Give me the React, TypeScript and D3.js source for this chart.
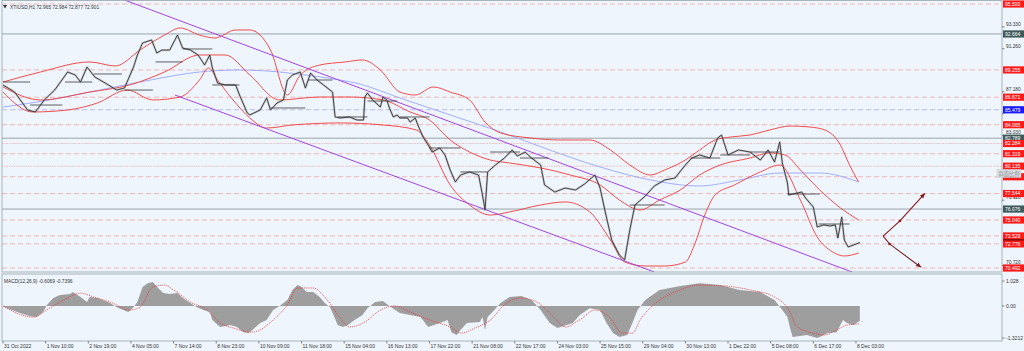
import React from 'react';
import * as d3 from 'd3';

const TITLE = 'XTIUSD,H1  72.965 72.984 72.877 72.901';
const MACD_TITLE = 'MACD(12,26,9) -0.6069 -0.7396';
const SCALE_BUTTON = '斜面比例';

const timeLabels = ['31 Oct 2022', '1 Nov 10:00', '2 Nov 19:00', '4 Nov 05:00', '7 Nov 14:00', '8 Nov 23:00', '10 Nov 09:00', '11 Nov 18:00', '15 Nov 04:00', '16 Nov 13:00', '17 Nov 22:00', '21 Nov 08:00', '22 Nov 17:00', '24 Nov 03:00', '25 Nov 15:00', '29 Nov 04:00', '30 Nov 13:00', '1 Dec 22:00', '5 Dec 08:00', '6 Dec 17:00', '8 Dec 03:00'];
const BARS_PER_LABEL = 33;
const TOTAL_BARS = 773;

// [bar index, close price]
const closeSeries: [number, number][] = [[0,87.83],[9,87.16],[19,85.46],[25,85.27],[32,86.41],[40,87.35],[50,89.06],[56,88.77],[60,88.11],[65,89.53],[71,88.59],[79,88.02],[88,87.35],[94,87.54],[101,89.53],[104,90.67],[108,91.81],[115,92.09],[119,90.86],[123,91.14],[129,91.14],[135,92.56],[139,91.33],[145,91.14],[151,90.67],[156,89.72],[160,90.67],[162,89.44],[166,88.02],[172,87.83],[180,87.83],[183,86.88],[189,85.18],[191,84.99],[199,85.46],[204,86.6],[207,85.46],[212,86.12],[217,86.41],[220,88.3],[224,88.77],[230,89.06],[234,87.54],[238,88.96],[243,88.3],[248,87.83],[255,87.16],[257,84.8],[261,84.7],[268,84.8],[274,84.51],[279,84.51],[280,86.69],[282,87.07],[286,86.41],[292,85.74],[294,86.69],[297,86.41],[299,85.65],[302,84.8],[305,84.99],[307,84.7],[313,84.7],[315,84.32],[319,84.7],[321,84.04],[325,82.9],[329,82.14],[332,81.48],[338,81.86],[342,81.2],[346,79.78],[350,78.64],[354,79.3],[361,79.59],[368,79.3],[371,77.41],[373,75.99],[375,79.59],[381,80.25],[388,80.91],[394,81.67],[398,81.1],[404,81.48],[409,80.91],[416,80.25],[419,78.36],[427,77.69],[435,78.07],[443,77.88],[450,78.45],[458,79.3],[462,78.07],[466,75.8],[471,73.14],[477,71.72],[481,71.25],[485,74.09],[489,76.46],[497,77.31],[504,78.26],[512,78.83],[520,79.02],[528,80.25],[533,80.91],[539,81.2],[547,80.91],[553,82.81],[556,83.09],[561,81.2],[569,81.67],[578,81.48],[586,80.72],[592,81.67],[597,80.53],[601,82.43],[603,80.44],[607,78.54],[608,77.41],[611,77.5],[618,77.69],[621,77.12],[627,76.27],[630,74.38],[635,74.57],[640,74.47],[644,74.57],[646,73.33],[649,75.32],[651,73.14],[654,72.48],[658,72.67],[663,72.9]];

const bandUpper: [number, number][] = [[0,88.11],[29,89.06],[67,90.01],[87,89.63],[106,91.14],[125,92.56],[137,93.23],[152,92.56],[164,92.28],[180,93.04],[191,93.04],[207,91.14],[220,86.88],[230,88.77],[245,89.72],[265,90.01],[278,90.2],[292,89.25],[307,87.16],[319,86.88],[333,87.64],[346,87.16],[361,86.41],[373,84.32],[385,83.28],[408,82.81],[431,82.62],[454,82.62],[470,81.67],[485,80.25],[501,79.3],[512,79.78],[528,80.72],[539,81.67],[551,82.62],[563,82.9],[578,83.09],[593,83.56],[609,83.94],[624,83.85],[636,83.56],[648,82.14],[655,80.25],[662,78.64]];
const bandMiddle: [number, number][] = [[0,87.64],[29,86.41],[67,87.16],[98,87.83],[125,89.06],[152,90.67],[172,90.67],[191,88.77],[214,86.41],[245,86.69],[268,86.69],[294,86.41],[315,85.27],[330,84.51],[346,82.62],[361,81.48],[377,80.72],[392,80.44],[416,79.97],[439,79.3],[462,78.36],[477,76.93],[493,75.99],[508,76.93],[524,77.88],[539,79.3],[555,80.25],[578,80.91],[593,81.39],[605,81.2],[617,79.78],[632,77.88],[648,76.18],[662,75.04]];
const bandLower: [number, number][] = [[0,87.16],[23,85.27],[50,85.46],[73,86.12],[96,87.35],[116,86.41],[137,86.69],[152,88.3],[159,89.44],[166,88.3],[178,86.41],[191,84.7],[204,83.75],[224,84.04],[261,84.23],[294,84.04],[320,83.56],[330,82.14],[346,78.36],[361,76.46],[377,75.51],[392,75.8],[416,76.46],[435,76.75],[454,75.8],[470,73.14],[481,71.06],[497,70.68],[512,70.68],[528,71.06],[535,72.67],[543,75.51],[551,77.41],[566,78.36],[586,79.59],[601,80.25],[617,76.93],[630,73.43],[642,72.01],[651,71.63],[662,71.91]];
const slowMA: [number, number][] = [[0,85.74],[36,86.41],[75,87.35],[114,88.3],[152,89.06],[183,89.25],[214,89.06],[245,88.59],[276,87.92],[307,86.6],[346,84.99],[385,83.38],[423,81.67],[462,80.06],[501,78.83],[539,78.26],[570,78.83],[601,79.49],[632,79.49],[662,78.64]];

const channelUpper: [number, number][] = [[94, 95.88], [657, 70.11]];
const channelLower: [number, number][] = [[133, 86.88], [504, 70.11]];

// [start bar, end bar, price]
const dailyLevels: [number, number, number][] = [[0,21,88.11],[21,46,85.93],[48,69,88.11],[70,92,88.87],[94,116,87.35],[118,139,90.01],[139,162,91.24],[162,183,87.83],[207,234,85.65],[236,255,88.3],[259,282,84.8],[282,305,86.31],[307,330,84.8],[330,354,81.86],[354,375,79.59],[377,400,81.48],[400,422,80.91],[485,512,76.46],[532,555,80.91],[555,578,81.2],[578,601,81.48],[607,632,77.5],[631,655,74.66]];

const forecastUp: [number, number][] = [[681,73.52],[694,74.95],[713,77.52]];
const forecastDown: [number, number][] = [[681,73.52],[686,72.77],[710,70.59]];

const redDashedLevels = [95.5, 89.255, 86.671, 84.065, 81.319, 79.135, 77.544, 75.04, 73.529, 72.776, 70.492];
const redDottedLevels = [82.284, 80.135];
const blueDashedLevels = [85.479];
const greyLevels = [92.664, 82.789, 76.076];
const hiddenLabelLevels = [79.135];
const currentPrice = 72.901;
const priceTicks = [93.33, 91.26, 87.18, 85.11, 83.03, 76.92, 70.72];

const macdHist: [number, number][] = [[0,-0.02],[13,-0.29],[21,-0.42],[26,-0.46],[31,-0.25],[34,0.04],[39,0.33],[44,0.45],[52,0.49],[54,0.57],[60,0.37],[65,0.16],[67,0.37],[73,0.33],[77,0.24],[83,0.12],[88,-0.05],[93,-0.17],[97,-0.25],[101,-0.05],[104,0.16],[108,0.78],[112,0.94],[116,0.99],[120,0.74],[124,0.53],[129,0.49],[135,0.53],[139,0.33],[145,0.12],[150,-0.05],[155,-0.17],[160,-0.25],[162,-0.58],[168,-0.87],[176,-0.79],[181,-0.87],[186,-1.08],[190,-1.12],[193,-0.99],[199,-0.7],[204,-0.58],[209,-0.17],[214,0],[220,0.24],[224,0.66],[228,0.86],[231,0.78],[235,0.57],[240,0.57],[245,0.37],[249,0.12],[253,-0.05],[255,-0.29],[259,-0.79],[263,-0.87],[267,-0.79],[272,-0.58],[278,-0.38],[282,-0.09],[288,0.16],[294,0.2],[299,0],[307,-0.29],[323,-0.46],[329,-0.87],[338,-0.7],[344,-0.58],[347,-1.08],[351,-1.2],[354,-0.99],[359,-0.7],[369,-0.66],[371,-0.46],[373,-0.99],[375,-0.46],[378,-0.29],[385,0.12],[392,0.37],[401,0.41],[409,0.24],[416,-0.17],[423,-0.7],[429,-0.91],[441,-0.7],[446,-0.38],[454,-0.09],[462,-0.17],[467,-0.7],[472,-1.12],[477,-1.28],[483,-1.2],[487,-0.7],[491,-0.17],[497,0.24],[508,0.66],[524,0.82],[539,0.94],[555,0.86],[570,0.66],[586,0.57],[597,0.24],[603,-0.17],[607,-0.46],[609,-0.91],[611,-1.28],[622,-1.2],[630,-1.32],[632,-1.28],[638,-1.12],[645,-1.08],[650,-0.58],[653,-0.7],[658,-0.79],[663,-0.61]];
const macdSignal: [number, number][] = [[0,0],[23,-0.46],[36,-0.09],[50,0.33],[60,0.53],[70,0.37],[83,0.16],[98,-0.17],[106,-0.05],[116,0.78],[125,0.86],[132,0.66],[145,0.16],[158,-0.17],[168,-0.7],[178,-0.91],[193,-1.08],[209,-0.58],[220,0.04],[228,0.74],[240,0.74],[251,0.24],[261,-0.5],[268,-0.87],[280,-0.66],[292,-0.17],[303,0],[315,-0.25],[330,-0.58],[346,-0.87],[355,-1.12],[365,-0.91],[377,-0.58],[388,0.04],[400,0.33],[413,0.16],[427,-0.5],[435,-0.87],[446,-0.58],[458,-0.17],[470,-0.5],[479,-1.12],[487,-1.12],[493,-0.58],[505,0.12],[520,0.57],[539,0.86],[559,0.82],[578,0.66],[597,0.37],[609,-0.25],[614,-0.83],[627,-1.12],[635,-1.2],[645,-0.99],[653,-0.79],[663,-0.74]];
const macdTicks = [{ v: 1.028, t: '1.028' }, { v: 0, t: '0.00' }, { v: -1.3212, t: '-1.3212' }];

const FONT = "'Liberation Sans', Arial, sans-serif";

export default function App() {
  const W = 1024, H = 351;
  const left = 2, right = 1002;
  const paneBottom = 272, macdTop = 274, macdBottom = 341;

  const x = d3.scaleLinear().domain([0, TOTAL_BARS]).range([3, right]);
  const y = d3.scaleLinear().domain([70.492, 95.5]).range([268, 4]);
  const ym = d3.scaleLinear().domain([-1.3212, 1.028]).range([338, 281]);

  const priceLine = d3.line<[number, number]>().x(d => x(d[0])).y(d => y(d[1]));
  const smoothLine = d3.line<[number, number]>().x(d => x(d[0])).y(d => y(d[1])).curve(d3.curveMonotoneX);
  const macdLine = d3.line<[number, number]>().x(d => x(d[0])).y(d => ym(d[1])).curve(d3.curveMonotoneX);
  const histArea = d3.area<[number, number]>().x(d => x(d[0])).y0(ym(0)).y1(d => ym(d[1]));

  const levelLine = (p: number, key: string, stroke: string, dash?: string, sw = 0.8) => (
    <line key={key} x1={left} x2={right} y1={y(p)} y2={y(p)} stroke={stroke} strokeWidth={sw} strokeDasharray={dash} />
  );
  const priceLabel = (p: number, key: string, fill: string, showText = true) => (
    <g key={key}>
      <rect x={right + 1} y={y(p) - 3.6} width={22} height={7.2} fill={fill} />
      {showText && <text x={right + 3} y={y(p) + 1.8} fontSize={5} fill="#fff" fontFamily={FONT}>{p.toFixed(3)}</text>}
    </g>
  );

  return (
    <svg width={W} height={H} style={{ position: 'absolute', left: 0, top: 0, background: '#eef5fc' }}>
      <defs>
        <clipPath id="mainClip"><rect x={left} y={0} width={right - left} height={paneBottom} /></clipPath>
        <clipPath id="macdClip"><rect x={left} y={macdTop} width={right - left} height={macdBottom - macdTop} /></clipPath>
        <marker id="arrowUp" viewBox="0 0 10 10" refX="8" refY="5" markerWidth="5" markerHeight="5" orient="auto">
          <path d="M0,1 L10,5 L0,9 z" fill="#8b1a1a" />
        </marker>
        <marker id="arrowDown" viewBox="0 0 10 10" refX="8" refY="5" markerWidth="5" markerHeight="5" orient="auto">
          <path d="M0,1 L10,5 L0,9 z" fill="#7a1f1f" />
        </marker>
      </defs>
      <rect x={0} y={0} width={W} height={H} fill="#eef5fc" />

      {/* main pane */}
      <g clipPath="url(#mainClip)">
        {greyLevels.map((p, i) => levelLine(p, 'g' + i, '#9aa3ab', undefined, 1))}
        {redDashedLevels.map((p, i) => levelLine(p, 'rd' + i, '#f3a3a3', '5,3'))}
        {redDottedLevels.map((p, i) => levelLine(p, 'rt' + i, '#f3a3a3', '1.2,1.2'))}
        {blueDashedLevels.map((p, i) => levelLine(p, 'bd' + i, '#a8a8f0', '5,3'))}

        <path d={smoothLine(slowMA) || ''} fill="none" stroke="#98a6ff" strokeWidth={0.9} />
        <path d={smoothLine(bandUpper) || ''} fill="none" stroke="#f23a3a" strokeWidth={0.9} />
        <path d={smoothLine(bandMiddle) || ''} fill="none" stroke="#f23a3a" strokeWidth={0.9} />
        <path d={smoothLine(bandLower) || ''} fill="none" stroke="#f23a3a" strokeWidth={0.9} />

        <path d={priceLine(channelUpper) || ''} fill="none" stroke="#a345e6" strokeWidth={1} />
        <path d={priceLine(channelLower) || ''} fill="none" stroke="#a345e6" strokeWidth={1} />

        <path d={priceLine(closeSeries) || ''} fill="none" stroke="#9a9a9a" strokeWidth={2.2} strokeOpacity={0.45} strokeLinejoin="round" />
        <path d={priceLine(closeSeries) || ''} fill="none" stroke="#333" strokeWidth={0.9} strokeLinejoin="round" />

        {dailyLevels.map((d, i) => (
          <line key={'dl' + i} x1={x(d[0])} x2={x(d[1])} y1={y(d[2])} y2={y(d[2])} stroke="#3a3a3a" strokeWidth={0.8} />
        ))}

        <path d={priceLine(forecastUp) || ''} fill="none" stroke="#8b1a1a" strokeWidth={1.1} markerEnd="url(#arrowUp)" />
        <path d={priceLine(forecastDown) || ''} fill="none" stroke="#7a2a2a" strokeWidth={1.1} markerEnd="url(#arrowDown)" />
        {[forecastUp[1], forecastDown[1]].map((d, i) => (
          <circle key={'fm' + i} cx={x(d[0])} cy={y(d[1])} r={1.3} fill="#8b1a1a" />
        ))}
      </g>

      {/* MACD pane */}
      <g clipPath="url(#macdClip)">
        <path d={histArea(macdHist) || ''} fill="#9e9e9e" />
        <path d={macdLine(macdSignal) || ''} fill="none" stroke="#e83a3a" strokeWidth={0.8} strokeDasharray="1.2,1" />
      </g>

      {/* pane frames */}
      <rect x={left} y={0.5} width={right - left} height={paneBottom - 0.5} fill="none" stroke="#9aa3ab" strokeWidth={0.8} />
      <rect x={left} y={macdTop} width={right - left} height={macdBottom - macdTop} fill="none" stroke="#9aa3ab" strokeWidth={0.8} />

      {/* titles */}
      <path d="M3,5 L7,5 L5,8.5 z" fill="#333" />
      <text x={10} y={8.5} fontSize={4.8} fill="#333" fontFamily={FONT}>{TITLE}</text>
      <text x={4} y={283} fontSize={4.8} fill="#333" fontFamily={FONT}>{MACD_TITLE}</text>

      {/* price axis */}
      {priceTicks.map((p, i) => (
        <g key={'pt' + i}>
          <line x1={right} x2={right + 2.5} y1={y(p)} y2={y(p)} stroke="#555" strokeWidth={0.7} />
          <text x={right + 4} y={y(p) - 1.2} fontSize={4.8} fill="#333" fontFamily={FONT}>{p.toFixed(3)}</text>
        </g>
      ))}
      {greyLevels.map((p, i) => priceLabel(p, 'gl' + i, '#3e5a5a'))}
      {priceLabel(currentPrice, 'cur', '#000', false)}
      {redDottedLevels.map((p, i) => priceLabel(p, 'rtl' + i, '#ff1a1a'))}
      {redDashedLevels.map((p, i) => priceLabel(p, 'rdl' + i, '#ff1a1a', !hiddenLabelLevels.includes(p)))}
      {blueDashedLevels.map((p, i) => priceLabel(p, 'bdl' + i, '#1a1aff'))}

      <rect x={997} y={169.5} width={24} height={8} fill="#dcdfe2" stroke="#c4c8cc" strokeWidth={0.5} />
      <text x={1009} y={175.6} fontSize={5.2} fill="#8a8f95" textAnchor="middle" fontFamily="'Noto Sans CJK SC', sans-serif">{SCALE_BUTTON}</text>

      {/* MACD axis */}
      {macdTicks.map((t, i) => (
        <g key={'mt' + i}>
          <line x1={right} x2={right + 2.5} y1={ym(t.v)} y2={ym(t.v)} stroke="#555" strokeWidth={0.7} />
          <text x={right + 4} y={ym(t.v) + 1.8} fontSize={5} fill="#333" fontFamily={FONT}>{t.t}</text>
        </g>
      ))}

      {/* time axis */}
      {timeLabels.map((t, i) => {
        const xx = x(i * BARS_PER_LABEL);
        return (
          <g key={'tl' + i}>
            <line x1={xx} x2={xx} y1={macdBottom} y2={macdBottom + 2.5} stroke="#555" strokeWidth={0.7} />
            <text x={xx + 1} y={347.5} fontSize={5} fill="#333" fontFamily={FONT}>{t}</text>
          </g>
        );
      })}
    </svg>
  );
}
